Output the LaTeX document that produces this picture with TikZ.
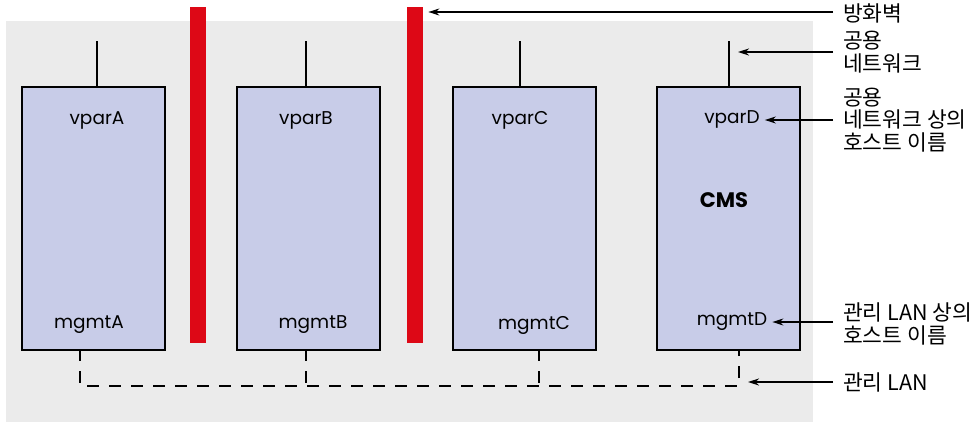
\documentclass[tikz,border=0pt]{standalone}
\usepackage{fontspec}
\setmainfont{Poppins}
\newfontfamily\kr{Noto Sans CJK KR}
\usetikzlibrary{arrows.meta}
\definecolor{bgc}{HTML}{EBEBEB}
\definecolor{boxc}{HTML}{C8CCE8}
\definecolor{fwc}{HTML}{DD0816}
\begin{document}
\begin{tikzpicture}[x=1pt,y=-1pt,
  host/.style={draw=black, line width=2pt, fill=boxc, minimum width=143pt, minimum height=263pt, inner sep=0pt, anchor=north west},
  fwbar/.style={fill=fwc, draw=none, minimum width=16pt, minimum height=336pt, inner sep=0pt, anchor=north west},
  lbl/.style={font=\fontsize{18.5}{22}\selectfont, inner sep=0pt},
  rlbl/.style={font=\fontsize{21.5}{22.5}\selectfont\kr, inner sep=0pt, anchor=west, align=left},
  stub/.style={line width=2pt},
  lan/.style={line width=2pt, dash pattern=on 12pt off 10pt},
  arr/.style={line width=1.6pt, -{Stealth[length=11pt,width=7pt]}}
]
\useasboundingbox (0,0) rectangle (978,423);
\fill[bgc] (6,21) rectangle (813,422);
% firewalls
\node[fwbar] (f1) at (190,7) {};
\node[fwbar] (f2) at (407,7) {};
% hosts
\node[host] (A) at (21,86) {};
\node[host] (B) at (236,86) {};
\node[host] (C) at (452,86) {};
\node[host] (D) at (656,86) {};
% public network stubs
\coordinate (sA) at (97,41);
\coordinate (sB) at (306,41);
\coordinate (sC) at (520,41);
\coordinate (sD) at (729,41);
\draw[stub] (A.north -| sA) -- (sA);
\draw[stub] (B.north -| sB) -- (sB);
\draw[stub] (C.north -| sC) -- (sC);
\draw[stub] (D.north -| sD) -- (sD);
% labels in hosts
\node[lbl] (vA) at (97,120) {vparA};
\node[lbl] (vB) at (306,120) {vparB};
\node[lbl] (vC) at (520,120) {vparC};
\node[lbl] (vD) at (732,119) {vparD};
\node[lbl, font=\fontsize{21}{24}\selectfont\bfseries] (cms) at (724,200) {CMS};
\node[lbl] (mA) at (89,325) {mgmtA};
\node[lbl] (mB) at (313,325) {mgmtB};
\node[lbl] (mC) at (534,325) {mgmtC};
\node[lbl] (mD) at (732,322) {mgmtD};
% management LAN
\coordinate (la) at (80,349);
\coordinate (lb) at (306,349);
\coordinate (lc) at (539,349);
\coordinate (ld) at (739,349);
\coordinate (lanr) at (739,386);
\draw[lan] (la) -- (la |- lanr) -- (lanr) -- (ld);
\draw[lan] (lb) -- (lb |- lanr);
\draw[lan] (lc) -- (lc |- lanr);
% right labels
\node[rlbl] (t1) at (843,13) {방화벽};
\node[rlbl] (t2) at (843,52) {공용\\네트워크};
\node[rlbl] (t3) at (843,120) {공용\\네트워크 상의\\호스트 이름};
\node[rlbl] (t4) at (843,324) {관리 LAN 상의\\호스트 이름};
\node[rlbl] (t5) at (843,382) {관리 LAN};
% arrows
\draw[arr] ([xshift=-10pt]t1.west |- 0,12) -- ([xshift=5pt]f2.north east |- 0,12);
\draw[arr] ([xshift=-10pt]t2.west) -- ([xshift=9pt]sD |- t2.west);
\draw[arr] ([xshift=-10pt]t3.west) -- ([xshift=5pt]vD.east |- t3.west);
\draw[arr] ([xshift=-10pt]mD.east -| t4.west) -- ([xshift=5pt]mD.east);
\draw[arr] ([xshift=-10pt]t5.west) -- ([xshift=9pt]lanr |- t5.west);
\end{tikzpicture}
\end{document}
